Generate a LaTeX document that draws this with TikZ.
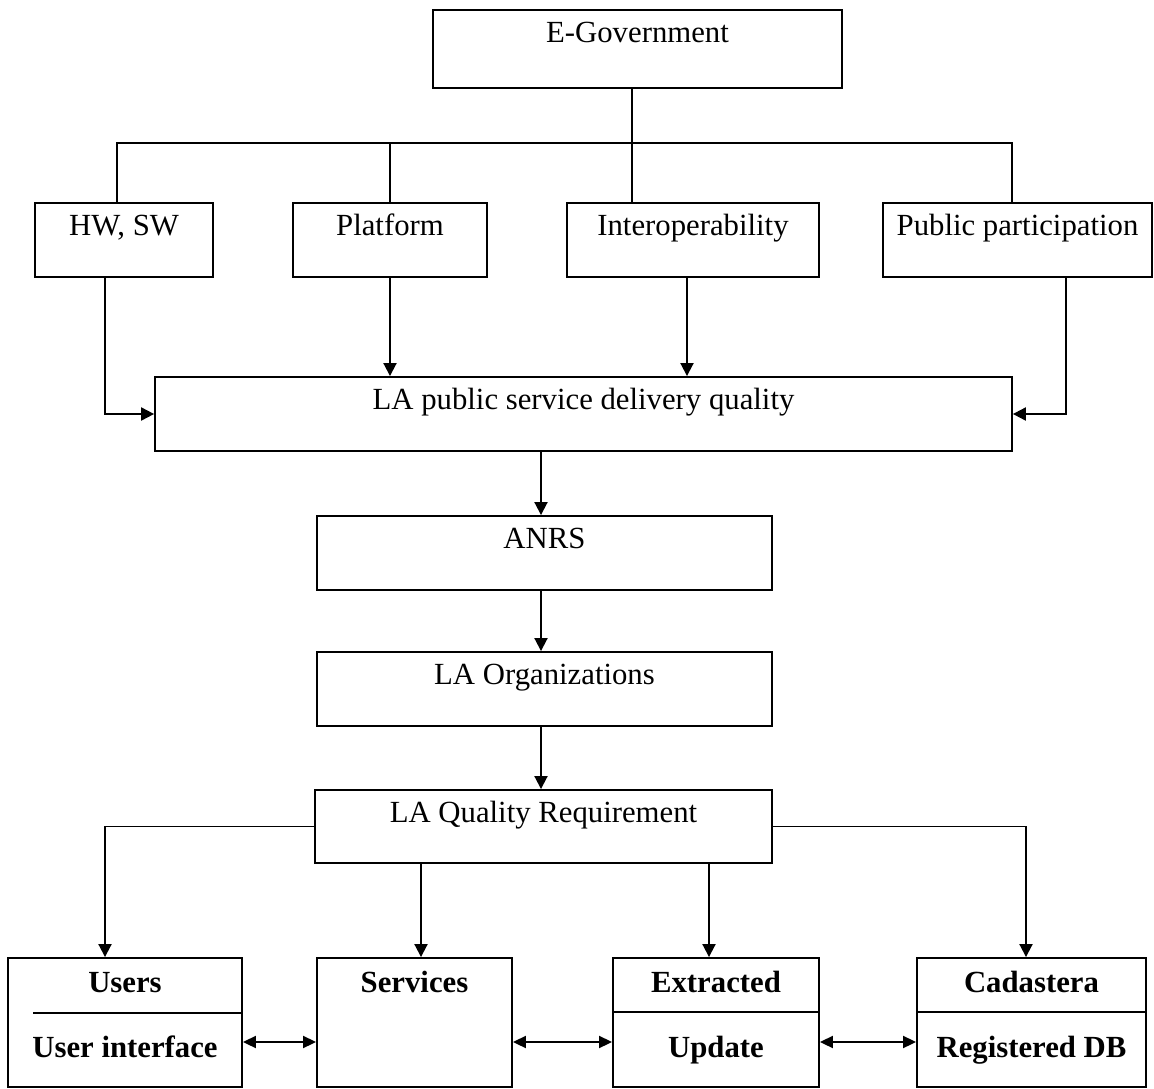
\documentclass[tikz,border=0pt]{standalone}
\usepackage{fontspec}
\setmainfont{Liberation Serif}
\usetikzlibrary{arrows.meta}

\newcommand\boxfont{\fontsize{17.5}{20}\selectfont}

\tikzset{
  box/.style={draw, line width=1.1pt, rectangle, inner sep=0pt},
  lbl/.style={label={[anchor=base,yshift=-0.66cm,inner sep=0pt]north:#1}},
  uptxt/.style={label={[anchor=base,yshift=-0.7cm,inner sep=0pt,font=\boxfont\bfseries]north:#1}},
  lowtxt/.style={label={[anchor=base,yshift=-2.0cm,inner sep=0pt,font=\boxfont\bfseries]north:#1}},
  wire/.style={line width=1.1pt},
  arr/.style={line width=1.1pt, -{Triangle[length=0.26cm,width=0.26cm]}},
  dbl/.style={line width=1.1pt, {Triangle[length=0.26cm,width=0.24cm]}-{Triangle[length=0.26cm,width=0.24cm]}},
}

\begin{document}
\begin{tikzpicture}[x=0.02cm, y=-0.02cm, font=\boxfont]
\useasboundingbox (0,0) rectangle (1154,1089);

% top
\node[box, minimum width=8.18cm, minimum height=1.56cm, lbl=E-Government] (egov) at (637.5,49) {};
\coordinate (bus) at (632,143);

% four factors
\node[box, minimum width=3.56cm, minimum height=1.48cm, lbl={{HW, SW}}] (hwsw) at (124,240) {};
\node[box, minimum width=3.88cm, minimum height=1.48cm, lbl=Platform] (platf) at (390,240) {};
\node[box, minimum width=5.04cm, minimum height=1.48cm, lbl=Interoperability] (interop) at (693,240) {};
\node[box, minimum width=5.38cm, minimum height=1.48cm, lbl=Public participation] (pubpart) at (1017.5,240) {};

% middle chain
\node[box, minimum width=17.14cm, minimum height=1.48cm, lbl=LA public service delivery quality] (laps) at (583.5,414) {};
\node[box, minimum width=9.10cm, minimum height=1.48cm, lbl=ANRS] (anrs) at (544.5,553) {};
\node[box, minimum width=9.10cm, minimum height=1.48cm, lbl=LA Organizations] (laorg) at (544.5,689) {};
\node[box, minimum width=9.14cm, minimum height=1.46cm, lbl=LA Quality Requirement] (laqr) at (543.5,826.5) {};

% bottom row
\node[box, minimum width=4.68cm, minimum height=2.58cm, uptxt=Users, lowtxt=User interface] (users) at (125,1022.5) {};
\node[box, minimum width=3.90cm, minimum height=2.58cm, uptxt=Services] (serv) at (414.5,1022.5) {};
\node[box, minimum width=4.12cm, minimum height=2.58cm, uptxt=Extracted, lowtxt=Update] (extr) at (716,1022.5) {};
\node[box, minimum width=4.58cm, minimum height=2.58cm, uptxt=Cadastera, lowtxt=Registered DB] (cad) at (1031.5,1022.5) {};

\draw[wire] ([xshift=0.52cm,yshift=-1.12cm]users.north west) -- ([yshift=-1.12cm]users.north east);
\draw[wire] ([yshift=-1.1cm]extr.north west) -- ([yshift=-1.1cm]extr.north east);
\draw[wire] ([yshift=-1.1cm]cad.north west) -- ([yshift=-1.1cm]cad.north east);

% tree from E-Government
\draw[wire] (egov.south -| bus) -- (bus);
\draw[wire] ([xshift=-0.14cm]hwsw.north) |- (bus) -| ([xshift=-0.11cm]pubpart.north);
\draw[wire] (platf.north) -- (platf.north |- bus);
\draw[wire] (bus) -- (bus |- interop.north);

% into delivery quality
\draw[arr] ([xshift=-0.38cm]hwsw.south) |- (laps.west);
\draw[arr] (platf.south) -- (platf.south |- laps.north);
\draw[arr] ([xshift=-0.12cm]interop.south) -- ([xshift=-0.12cm]interop.south |- laps.north);
\draw[arr] ([xshift=0.97cm]pubpart.south) |- (laps.east);

\draw[arr] ([xshift=-0.07cm]laps.south -| anrs.north) -- ([xshift=-0.07cm]anrs.north);
\draw[arr] ([xshift=-0.07cm]anrs.south) -- ([xshift=-0.07cm]laorg.north);
\draw[arr] ([xshift=-0.07cm]laorg.south) -- ([xshift=-0.07cm]laorg.south |- laqr.north);

% requirement branches
\draw[arr] (laqr.west) -| ([xshift=-0.4cm]users.north);
\draw[arr] (laqr.east) -| ([xshift=-0.11cm]cad.north);
\draw[arr] ([xshift=0.13cm]serv.north |- laqr.south) -- ([xshift=0.13cm]serv.north);
\draw[arr] ([xshift=-0.14cm]extr.north |- laqr.south) -- ([xshift=-0.14cm]extr.north);

\draw[dbl] ([yshift=-0.39cm]users.east) -- ([yshift=-0.39cm]serv.west);
\draw[dbl] ([yshift=-0.39cm]serv.east) -- ([yshift=-0.39cm]extr.west);
\draw[dbl] ([yshift=-0.39cm]extr.east) -- ([yshift=-0.39cm]cad.west);

\end{tikzpicture}
\end{document}
